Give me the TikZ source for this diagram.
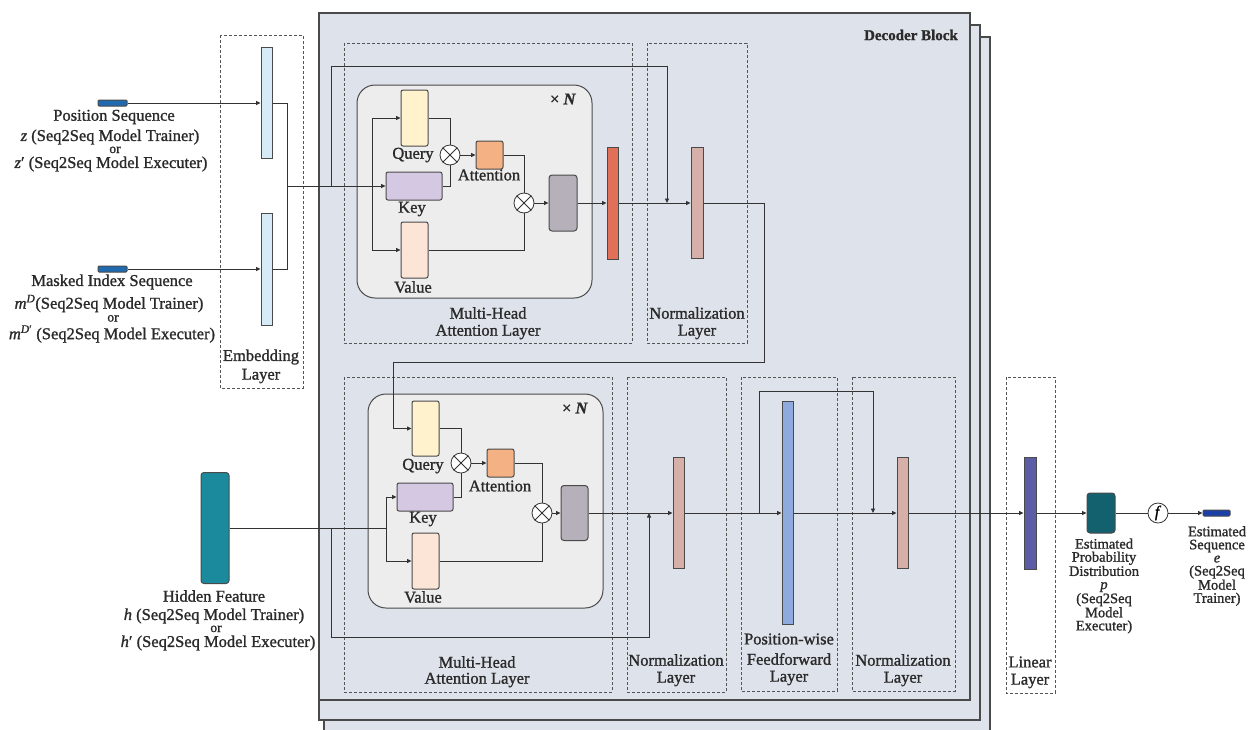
\documentclass[tikz,border=0pt]{standalone}
\usepackage{amsmath}
\usepackage{fontspec}
\setmainfont{Liberation Serif}[FakeBold=1.2]
\usetikzlibrary{arrows.meta,calc}
\definecolor{linec}{HTML}{333333}
\definecolor{edgec}{HTML}{4A4A4A}
\definecolor{dashc}{HTML}{555555}
\definecolor{decfill}{HTML}{DEE3EB}
\definecolor{innerfill}{HTML}{EDEDED}
\definecolor{qfill}{HTML}{FFF2CC}
\definecolor{kfill}{HTML}{D5C8E2}
\definecolor{vfill}{HTML}{FCE4D6}
\definecolor{afill}{HTML}{F4B183}
\definecolor{gfill}{HTML}{B6B0BB}
\definecolor{redfill}{HTML}{E07058}
\definecolor{normfill}{HTML}{D6AFA8}
\definecolor{embfill}{HTML}{D6EAF8}
\definecolor{seqfill}{HTML}{1F6AB0}
\definecolor{hidfill}{HTML}{1B8A9C}
\definecolor{ffnfill}{HTML}{8FAADC}
\definecolor{linfill}{HTML}{5B5EA6}
\definecolor{probfill}{HTML}{13616F}
\definecolor{outfill}{HTML}{1A3FA8}
\definecolor{textc}{HTML}{2A2A2A}
\newcommand{\iv}[1]{\textit{#1}}
\begin{document}
\begin{tikzpicture}[x=1pt,y=-1pt,
  ln/.style={draw=linec,line width=0.8pt},
  arr/.style={ln,-{Triangle[length=4.5pt,width=4pt]}},
  dbox/.style={draw=dashc,line width=0.8pt,dash pattern=on 3pt off 2pt},
  decbox/.style={draw=edgec,fill=decfill,line width=1.1pt},
  blk/.style={draw=edgec,line width=1pt,rectangle,inner sep=0pt,rounded corners=2pt},
  bar/.style={draw=edgec,line width=1pt,rectangle,inner sep=0pt},
  otim/.style={circle,draw=linec,fill=white,minimum size=20pt,inner sep=0pt,line width=0.8pt},
  lbl/.style={font=\fontsize{16.5}{18}\selectfont,inner sep=0pt,text=textc},
  ortxt/.style={font=\fontsize{13.5}{14}\selectfont,inner sep=0pt,text=textc,text height=4pt,text depth=0pt},
  small/.style={font=\fontsize{14.5}{13.1}\selectfont,inner sep=0pt,text=textc,align=center}
]
\useasboundingbox (0,0) rectangle (1260,729);
\fill[white] (0,0) rectangle (1260,729);

% decoder stack
\draw[decbox] (324,37) rectangle (990,740);
\draw[decbox] (319,25) rectangle (980,720);
\draw[decbox] (319,13) rectangle (970,700);
\node[lbl,anchor=east,font=\bfseries\fontsize{15}{17}\selectfont] (dectitle) at (958,35) {Decoder Block};

% dashed layer boxes
\draw[dbox] (220,35) rectangle (303,388);
\draw[dbox] (344,43) rectangle (632,343);
\draw[dbox] (647,43) rectangle (747,343);
\draw[dbox] (344,377) rectangle (612,692);
\draw[dbox] (627,377) rectangle (726,692);
\draw[dbox] (741,377) rectangle (837,691);
\draw[dbox] (852,377) rectangle (955,691);
\draw[dbox] (1006,377) rectangle (1055,693);

% inner rounded boxes
\draw[draw=edgec,fill=innerfill,line width=1pt,rounded corners=18pt] (357,85) rectangle (592,298);
\draw[draw=edgec,fill=innerfill,line width=1pt,rounded corners=18pt] (368,394) rectangle (603,608);

% inputs
\node[bar,fill=seqfill,minimum width=29pt,minimum height=6pt,rounded corners=1pt] (posbar) at (112.5,103) {};
\node[bar,fill=seqfill,minimum width=29pt,minimum height=6pt,rounded corners=1pt] (maskbar) at (112.5,269) {};
\node[bar,fill=embfill,minimum width=11pt,minimum height=111pt] (emb1) at (266.5,103) {};
\node[bar,fill=embfill,minimum width=11pt,minimum height=112pt] (emb2) at (266.5,269) {};

% upper attention
\node[blk,fill=qfill,minimum width=27pt,minimum height=56pt] (q1) at (414.5,118) {};
\node[blk,fill=kfill,minimum width=56pt,minimum height=28pt] (k1) at (414,186) {};
\node[blk,fill=vfill,minimum width=27pt,minimum height=56pt] (v1) at (414.5,250) {};
\node[otim] (ot1) at (450,155) {};
\node[blk,fill=afill,minimum width=27pt,minimum height=28pt] (att1) at (489.5,155) {};
\node[otim] (ot2) at (524,203) {};
\node[blk,fill=gfill,minimum width=28pt,minimum height=56pt,rounded corners=3pt] (g1) at (563,203) {};
\node[bar,fill=redfill,minimum width=11pt,minimum height=112pt] (red1) at (612.5,203) {};
\node[bar,fill=normfill,minimum width=12pt,minimum height=111pt] (nbar1) at (697,203) {};

% lower attention
\node[blk,fill=qfill,minimum width=27pt,minimum height=55pt] (q2) at (425.5,428.5) {};
\node[blk,fill=kfill,minimum width=56pt,minimum height=28pt] (k2) at (425,497) {};
\node[blk,fill=vfill,minimum width=27pt,minimum height=56pt] (v2) at (425.5,561) {};
\node[otim] (ot3) at (461,463) {};
\node[blk,fill=afill,minimum width=27pt,minimum height=28pt] (att2) at (500.5,463) {};
\node[otim] (ot4) at (542,513) {};
\node[blk,fill=gfill,minimum width=27pt,minimum height=55pt,rounded corners=3pt] (g2) at (574.5,513) {};
\node[blk,fill=hidfill,minimum width=28pt,minimum height=111pt,rounded corners=3pt] (hid) at (215,528) {};
\node[bar,fill=normfill,minimum width=11pt,minimum height=111pt] (nbar2) at (678.5,513) {};
\node[bar,fill=ffnfill,minimum width=11pt,minimum height=223pt] (ffn) at (787.5,513) {};
\node[bar,fill=normfill,minimum width=11pt,minimum height=111pt] (nbar3) at (902.5,513) {};
\node[bar,fill=linfill,minimum width=12pt,minimum height=112pt] (linbar) at (1030,513) {};
\node[blk,fill=probfill,minimum width=28pt,minimum height=40pt,rounded corners=3pt] (prob) at (1101,513) {};
\node[circle,draw=linec,fill=white,line width=0.8pt,minimum size=20pt,inner sep=0pt,font=\fontsize{16}{16}\selectfont] (fc) at (1158,513) {\iv{f}};
\node[bar,fill=outfill,minimum width=27pt,minimum height=6pt,rounded corners=1pt] (outbar) at (1216.5,513) {};

\foreach \n in {ot1,ot2,ot3,ot4}{
  \draw[ln] (\n.north east) -- (\n.south west) (\n.north west) -- (\n.south east);
}

% coordinates
\coordinate (ej) at (287,186);
\coordinate (s1a) at (331,186);
\coordinate (s1top) at (667,66);
\coordinate (s1b) at (667,203);
\coordinate (lv1) at (372,186);
\coordinate (lp1) at (764,362);
\coordinate (lp2) at (393,362);
\coordinate (lv2) at (386,528);
\coordinate (s2a) at (331,528);
\coordinate (s2bot) at (649,637);
\coordinate (s2b) at (649,513);
\coordinate (s3a) at (759,513);
\coordinate (s3top) at (873,391);
\coordinate (s3b) at (873,513);

% upper connectors
\draw[arr] (posbar.east) -- (emb1.west |- posbar.east);
\draw[arr] (maskbar.east) -- (emb2.west |- maskbar.east);
\draw[ln] (emb1.east) -| (ej);
\draw[ln] (emb2.east) -| (ej);
\draw[arr] (ej) -- (k1.west);
\draw[arr] (s1a) |- (s1top) -- (s1b);
\draw[arr] (lv1) |- (q1.west);
\draw[arr] (lv1) |- (v1.west);
\draw[ln] (q1.east) -| (ot1.north);
\draw[ln] (k1.east) -| (ot1.south);
\draw[arr] (ot1.east) -- (att1.west);
\draw[ln] (att1.east) -| (ot2.north);
\draw[ln] (v1.east) -| (ot2.south);
\draw[arr] (ot2.east) -- (g1.west);
\draw[arr] (g1.east) -- (red1.west);
\draw[arr] (red1.east) -- (nbar1.west);
\draw[arr] (nbar1.east) -| (lp1) -- (lp2) |- (q2.west);

% lower connectors
\draw[ln] (hid.east) -- (lv2);
\draw[arr] (lv2) |- (k2.west);
\draw[arr] (lv2) |- (v2.west);
\draw[arr] (s2a) |- (s2bot) -- (s2b);
\draw[ln] (q2.east) -| (ot3.north);
\draw[ln] (k2.east) -| (ot3.south);
\draw[arr] (ot3.east) -- (att2.west);
\draw[ln] (att2.east) -| (ot4.north);
\draw[ln] (v2.east) -| (ot4.south);
\draw[arr] (ot4.east) -- (g2.west);
\draw[arr] (g2.east) -- (nbar2.west);
\draw[arr] (nbar2.east) -- (ffn.west);
\draw[arr] (ffn.east) -- (nbar3.west);
\draw[arr] (s3a) |- (s3top) -- (s3b);
\draw[arr] (nbar3.east) -- (linbar.west);
\draw[arr] (linbar.east) -- (prob.west);
\draw[ln] (prob.east) -- (fc.west);
\draw[arr] (fc.east) -- (outbar.west);

% labels: inputs
\node[lbl] (t1) at (114,117) {Position Sequence};
\node[lbl] (t2) at (110,137) {\iv{z} (Seq2Seq Model Trainer)};
\node[ortxt] (t3) at (115,151) {or};
\node[lbl] (t4) at (111,164) {\iv{z}′ (Seq2Seq Model Executer)};
\node[lbl] (t5) at (112,282) {Masked Index Sequence};
\node[lbl] (t6) at (109,303.5) {\iv{m}\textsuperscript{\iv{D}}(Seq2Seq Model Trainer)};
\node[ortxt] (t7) at (113,319.5) {or};
\node[lbl] (t8) at (112,334) {\iv{m}\textsuperscript{\iv{D}′} (Seq2Seq Model Executer)};
\node[lbl] (t9) at (261,357) {Embedding};
\node[lbl] (t10) at (261,376) {Layer};
\node[lbl] (h1) at (214,596) {Hidden Feature};
\node[lbl] (h2) at (214,616) {\iv{h} (Seq2Seq Model Trainer)};
\node[ortxt] (h3) at (216,630) {or};
\node[lbl] (h4) at (218,643) {\iv{h}′ (Seq2Seq Model Executer)};

% labels: upper
\node[lbl] (xn1) at (563,99) {× \textbf{\textit{N}}};
\node[lbl] (lq1) at (413,155) {Query};
\node[lbl] (la1) at (489,175) {Attention};
\node[lbl] (lk1) at (412,209) {Key};
\node[lbl] (lv1t) at (413,287) {Value};
\node[lbl] (m1) at (488,313) {Multi-Head};
\node[lbl] (m2) at (488,332) {Attention Layer};
\node[lbl] (n1) at (697,313) {Normalization};
\node[lbl] (n2) at (697,332) {Layer};

% labels: lower
\node[lbl] (xn2) at (575,408) {× \textbf{\textit{N}}};
\node[lbl] (lq2) at (423,466) {Query};
\node[lbl] (la2) at (500,486) {Attention};
\node[lbl] (lk2) at (423,519) {Key};
\node[lbl] (lv2t) at (423,597) {Value};
\node[lbl] (m3) at (477,662) {Multi-Head};
\node[lbl] (m4) at (477,680) {Attention Layer};
\node[lbl] (n3) at (676,660) {Normalization};
\node[lbl] (n4) at (676,679) {Layer};
\node[lbl] (f1) at (789,639) {Position-wise};
\node[lbl] (f2) at (789,659) {Feedforward};
\node[lbl] (f3) at (789,678) {Layer};
\node[lbl] (n5) at (903,660) {Normalization};
\node[lbl] (n6) at (903,679) {Layer};
\node[lbl] (l1) at (1030,662) {Linear};
\node[lbl] (l2) at (1030,681) {Layer};
\node[small] (pl) at (1104,586) {Estimated\\Probability\\Distribution\\\iv{p}\\(Seq2Seq\\Model\\Executer)};
\node[small] (el) at (1217,566) {Estimated\\Sequence\\\iv{e}\\(Seq2Seq\\Model\\Trainer)};
\end{tikzpicture}
\end{document}
